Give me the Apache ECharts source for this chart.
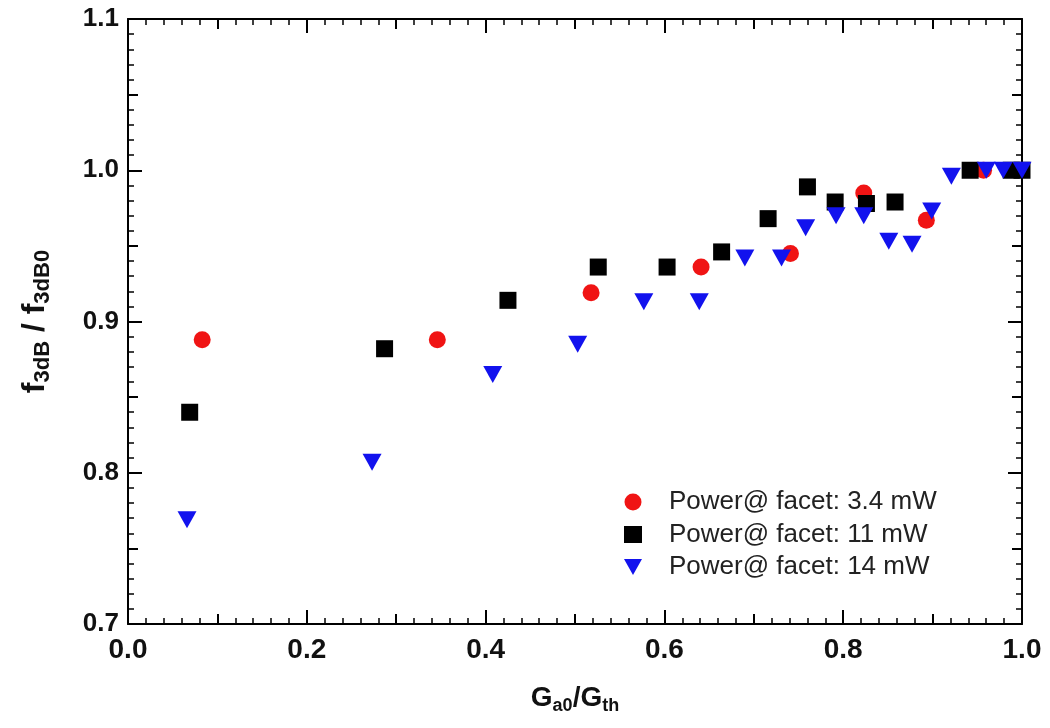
<!DOCTYPE html>
<html>
<head>
<meta charset="utf-8">
<script src="https://cdn.jsdelivr.net/npm/echarts@6/dist/echarts.min.js"></script>
<style>
  html, body { margin: 0; padding: 0; background: #fff; }
  #chart { width: 1050px; height: 728px; }
</style>
</head>
<body>
<div id="chart"></div>
<script>
// 数据
var seriesNames = ['Power@ facet: 3.4 mW', 'Power@ facet: 11 mW', 'Power@ facet: 14 mW'];

var redX = [0.083, 0.346, 0.518, 0.641, 0.741, 0.823, 0.893, 0.957];
var redY = [0.888, 0.888, 0.919, 0.936, 0.945, 0.985, 0.967, 1.000];

var blackX = [0.069, 0.287, 0.425, 0.526, 0.603, 0.664, 0.716, 0.760, 0.791, 0.826, 0.858, 0.942, 0.988, 1.000];
var blackY = [0.840, 0.882, 0.914, 0.936, 0.936, 0.946, 0.968, 0.989, 0.979, 0.978, 0.979, 1.000, 1.000, 1.000];

var blueX = [0.066, 0.273, 0.408, 0.503, 0.577, 0.639, 0.690, 0.731, 0.758, 0.792, 0.823, 0.851, 0.877, 0.899, 0.921, 0.960, 0.979, 1.000];
var blueY = [0.769, 0.807, 0.865, 0.885, 0.913, 0.913, 0.942, 0.942, 0.962, 0.970, 0.970, 0.953, 0.951, 0.973, 0.996, 1.000, 1.000, 1.000];

var xTicks = [0.0, 0.2, 0.4, 0.6, 0.8, 1.0];
var yTicks = [0.7, 0.8, 0.9, 1.0, 1.1];

function pairs(xs, ys) {
    return xs.map(function (x, i) { return [x, ys[i]]; });
}

var chart = echarts.init(document.getElementById('chart'));

var font = 'Liberation Sans, Arial, sans-serif';
var lineStyle = { color: '#000', width: 2 };
var downTriangle = 'path://M0,0 L20,0 L10,18 Z';

// 主轴 + 中间刻度轴 (0.1 / 0.05)
function xAxisOf(pos, main) {
    return {
        type: 'value',
        position: pos,
        min: xTicks[0],
        max: xTicks[xTicks.length - 1],
        interval: main ? 0.2 : 0.1,
        axisLine: { show: main, onZero: false, lineStyle: lineStyle },
        axisTick: { show: true, inside: true, length: main ? 14 : 10, lineStyle: { color: '#000', width: 2 } },
        minorTick: { show: main, splitNumber: 10, length: 6, lineStyle: { color: '#000', width: 1.5 } },
        splitLine: { show: false },
        axisLabel: {
            show: main && pos === 'bottom',
            margin: 12,
            color: '#111',
            fontFamily: font,
            fontWeight: 'bold',
            fontSize: 28,
            formatter: function (v) { return v.toFixed(1); }
        }
    };
}

function yAxisOf(pos, main) {
    return {
        type: 'value',
        position: pos,
        min: yTicks[0],
        max: yTicks[yTicks.length - 1],
        interval: main ? 0.1 : 0.05,
        axisLine: { show: main, onZero: false, lineStyle: lineStyle },
        axisTick: { show: true, inside: true, length: main ? 14 : 10, lineStyle: { color: '#000', width: 2 } },
        minorTick: { show: main, splitNumber: 10, length: 6, lineStyle: { color: '#000', width: 1.5 } },
        splitLine: { show: false },
        axisLabel: {
            show: main && pos === 'left',
            margin: 9,
            color: '#111',
            fontFamily: font,
            fontWeight: 'bold',
            fontSize: 26,
            formatter: function (v) { return v.toFixed(1); }
        }
    };
}

var xAxes = [xAxisOf('bottom', true), xAxisOf('bottom', false), xAxisOf('top', true), xAxisOf('top', false)];
var yAxes = [yAxisOf('left', true), yAxisOf('left', false), yAxisOf('right', true), yAxisOf('right', false)];

xAxes[0].name = '{m|G}{s|a0}{m|/G}{s|th}';
xAxes[0].nameLocation = 'middle';
xAxes[0].nameGap = 57;
xAxes[0].nameTextStyle = {
    color: '#111',
    rich: {
        m: { fontFamily: font, fontWeight: 'bold', fontSize: 28, lineHeight: 34, color: '#111' },
        s: { fontFamily: font, fontWeight: 'bold', fontSize: 18, lineHeight: 18, verticalAlign: 'bottom', color: '#111' }
    }
};

yAxes[0].name = '{m|f}{s|3dB}{m| / f}{s|3dB0}';
yAxes[0].nameLocation = 'middle';
yAxes[0].nameGap = 74;
yAxes[0].nameTextStyle = {
    color: '#111',
    rich: {
        m: { fontFamily: font, fontWeight: 'bold', fontSize: 32, lineHeight: 38, color: '#111' },
        s: { fontFamily: font, fontWeight: 'bold', fontSize: 22, lineHeight: 22, verticalAlign: 'bottom', color: '#111' }
    }
};

var option = {
    animation: false,
    backgroundColor: '#fff',
    grid: { left: 128, right: 28, top: 19, bottom: 104, containLabel: false },
    legend: {
        orient: 'vertical',
        left: 619,
        top: 484,
        itemWidth: 18,
        itemHeight: 17,
        itemGap: 6.5,
        textStyle: {
            fontFamily: font,
            fontSize: 26,
            lineHeight: 26,
            color: '#222',
            padding: [0, 0, 0, 22]
        },
        data: [
            { name: seriesNames[0] },
            { name: seriesNames[1] },
            { name: seriesNames[2], icon: downTriangle }
        ]
    },
    xAxis: xAxes,
    yAxis: yAxes,
    series: [{
        name: seriesNames[0],
        type: 'scatter',
        symbol: 'circle',
        symbolSize: 17,
        itemStyle: { color: '#f01414', opacity: 1 },
        data: pairs(redX, redY)
    }, {
        name: seriesNames[1],
        type: 'scatter',
        symbol: 'rect',
        symbolSize: 17,
        itemStyle: { color: '#000', opacity: 1 },
        data: pairs(blackX, blackY)
    }, {
        name: seriesNames[2],
        type: 'scatter',
        symbol: 'triangle',
        symbolRotate: 180,
        symbolSize: [19, 17],
        itemStyle: { color: '#1212ee', opacity: 1 },
        data: pairs(blueX, blueY)
    }]
};

chart.setOption(option);
</script>
</body>
</html>
